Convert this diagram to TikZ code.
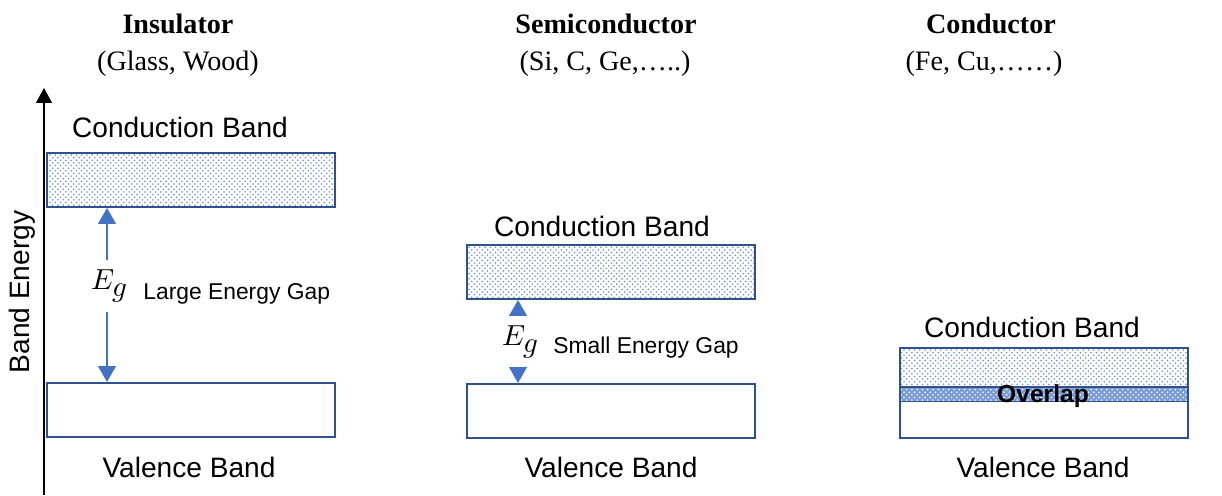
\documentclass[tikz,border=0pt]{standalone}
\usepackage{fontspec}
\usepackage{unicode-math}
\setmainfont{Liberation Serif}
\setmathfont{Latin Modern Math}
\newfontfamily\arialfont{Liberation Sans}
\usetikzlibrary{arrows.meta, patterns, positioning}
\definecolor{bandBlue}{HTML}{2F528F}
\definecolor{gapBlue} {HTML}{4472C4}

\begin{document}
\begin{tikzpicture}[
  x=0.02cm, y=-0.02cm,
  %% Band rectangle
  band/.style={
    rectangle, draw=bandBlue, line width=1.1pt,
    minimum width=5.76cm, minimum height=1.08cm, inner sep=0pt
  },
  %% Occupied (dotted) band
  dotband/.style={band, pattern=crosshatch dots, pattern color=gapBlue!80},
  %% Band labels
  lbl/.style={font=\arialfont\fontsize{16}{19}\selectfont, inner sep=0pt, anchor=base},
  %% Gap note
  note/.style={font=\arialfont\fontsize{13}{15}\selectfont, inner sep=0pt, anchor=base west},
  %% Column titles
  ttl/.style={font=\bfseries\fontsize{16}{19}\selectfont, inner sep=0pt, anchor=base},
  sub/.style={font=\fontsize{16}{19}\selectfont, inner sep=0pt, anchor=base},
  %% E_g label between arrows
  eg/.style={font=\fontsize{16.5}{20}\selectfont, minimum height=1.04cm, inner sep=0pt},
  %% Gap arrow
  garr/.style={-{Triangle[length=9pt,width=10pt]}, line width=1pt, color=gapBlue},
  %% Energy axis
  axarr/.style={-{Triangle[length=8.5pt,width=9pt]}, line width=1.1pt},
]
\useasboundingbox (0,0) rectangle (1222,495);

%% ── Y positions (top to bottom) ────────────────────────────────────────────
\def\yTtl{33}
\def\ySub{70}
\def\yVB{477}   % valence band labels

%% ── AXIS ───────────────────────────────────────────────────────────────────
\coordinate (axBot) at (44,495);
\coordinate (axTop) at (44,88);
\draw[axarr] (axBot) -- (axTop);
\node[lbl, anchor=center, rotate=90] (axLbl) at (22,292) {Band Energy};

%% ── INSULATOR ──────────────────────────────────────────────────────────────
\node[ttl] (insT) at (178,\yTtl) {Insulator};
\node[sub] (insS) at (178,\ySub) {(Glass, Wood)};
\node[lbl] (insCBl) at (180,137) {Conduction Band};
\node[dotband] (insCB) at (191,180) {};
\node[band] (insVB) at (191,410) {};
\node[lbl] (insVBl) at (189,\yVB) {Valence Band};
\node[eg] (insEg) at (110,286) {$E_{\textstyle g}$};
\draw[garr] (insEg.north -| 107,0) -- (insCB.south -| 107,0);
\draw[garr] (insEg.south -| 107,0) -- (insVB.north -| 107,0);
\node[note] (insGap) at (143,299) {Large Energy Gap};

%% ── SEMICONDUCTOR ──────────────────────────────────────────────────────────
\node[ttl] (semT) at (606,\yTtl) {Semiconductor};
\node[sub] (semS) at (605,\ySub) {(Si, C, Ge,…..)};
\node[lbl] (semCBl) at (602,236) {Conduction Band};
\node[dotband] (semCB) at (611,272) {};
\node[band] (semVB) at (611,411) {};
\node[lbl] (semVBl) at (611,\yVB) {Valence Band};
\node[eg] (semEg) at (521,342) {$E_{\textstyle g}$};
\draw[garr] (semEg.north -| 518,0) -- (semCB.south -| 518,0);
\draw[garr] (semEg.south -| 518,0) -- (semVB.north -| 518,0);
\node[note] (semGap) at (553,353) {Small Energy Gap};

%% ── CONDUCTOR ──────────────────────────────────────────────────────────────
\node[ttl] (conT) at (991,\yTtl) {Conductor};
\node[sub] (conS) at (984,\ySub) {(Fe, Cu,……)};
\node[lbl] (conCBl) at (1032,337) {Conduction Band};
\node[dotband, minimum height=1.06cm] (conCB) at (1044,374.5) {};
\node[rectangle, minimum width=5.76cm, minimum height=0.28cm, inner sep=0pt,
      preaction={fill=gapBlue!70}, pattern=crosshatch dots, pattern color=white]
  (conOv) at (1044,394) {};
\node[band, minimum height=1.02cm] (conVB) at (1044,412.5) {};
\node[font=\arialfont\bfseries\fontsize{14}{16}\selectfont, inner sep=0pt, anchor=base]
  (conOvl) at (1043,402) {Overlap};
\node[lbl] (conVBl) at (1043,\yVB) {Valence Band};

\end{tikzpicture}
\end{document}
